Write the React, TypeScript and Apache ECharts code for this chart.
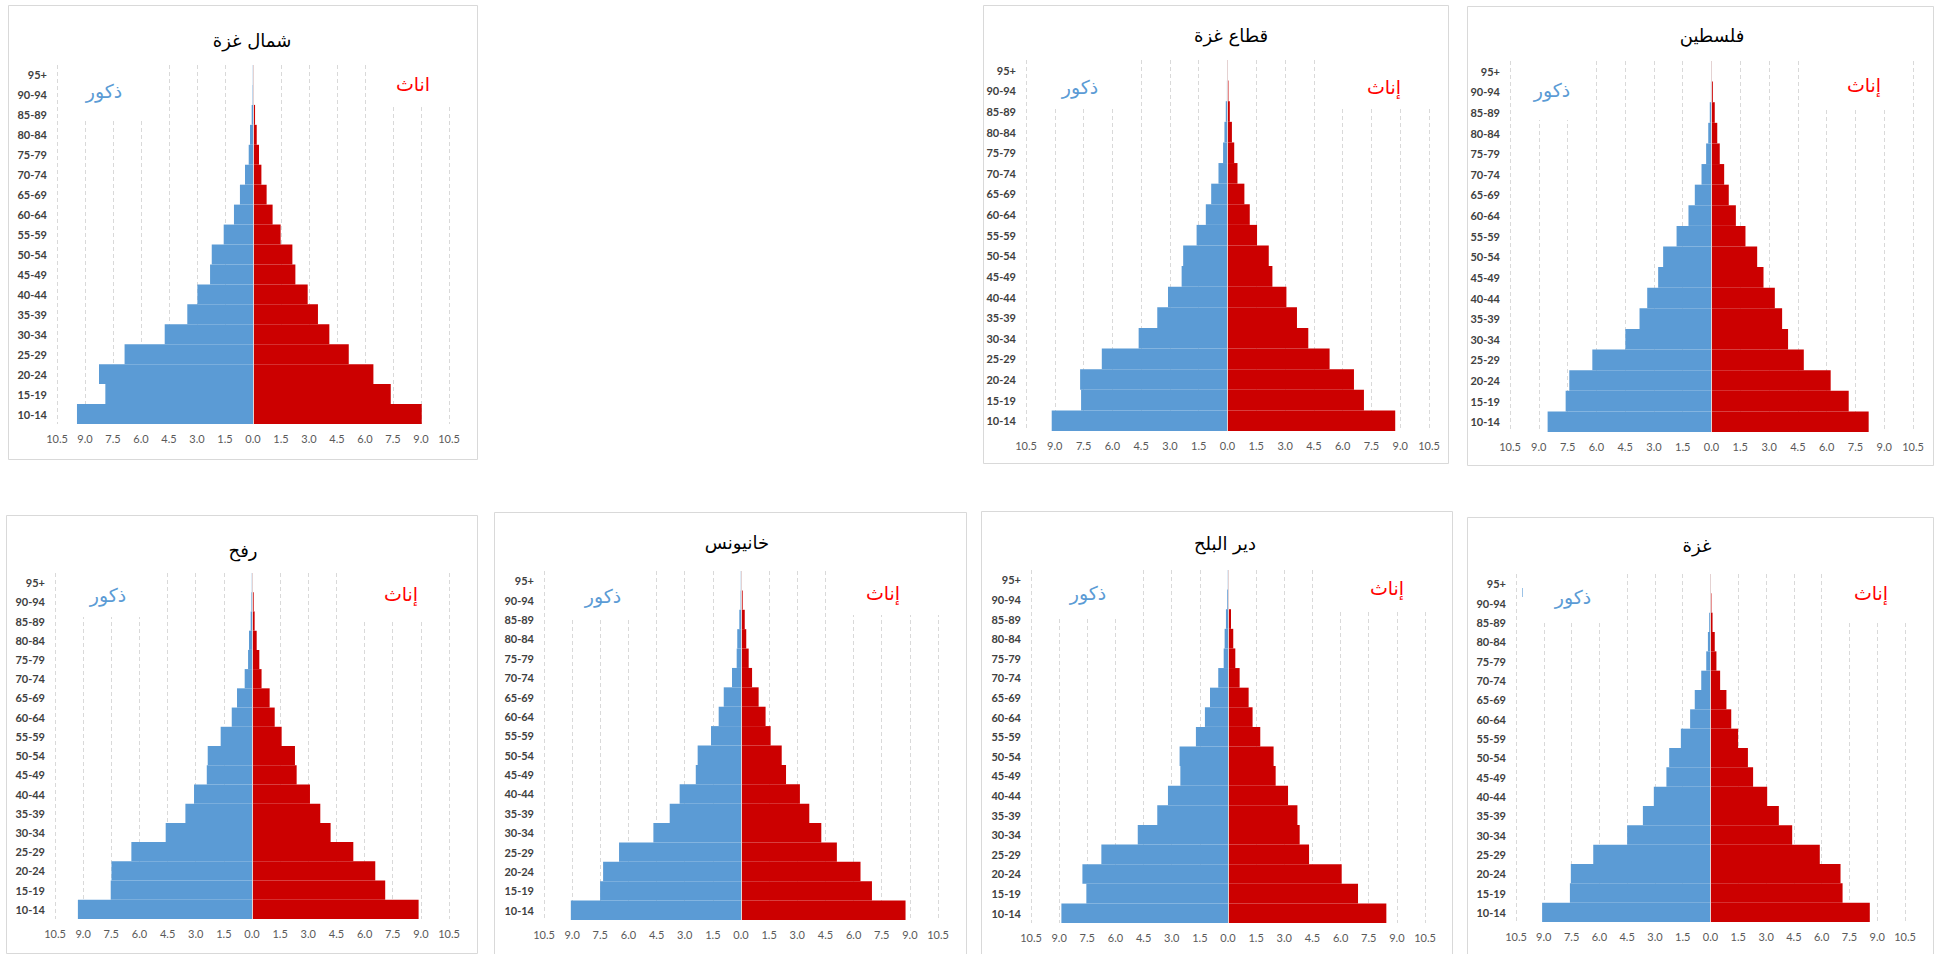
import React, { useEffect, useRef } from "react";
import * as echarts from "echarts";

const ageGroups = ["10-14","15-19","20-24","25-29","30-34","35-39","40-44","45-49","50-54","55-59","60-64","65-69","70-74","75-79","80-84","85-89","90-94","95+"];
const tickValues = [-10.5, -9, -7.5, -6, -4.5, -3, -1.5, 0, 1.5, 3, 4.5, 6, 7.5, 9, 10.5];

const panelTitles = ["شمال غزة", "قطاع غزة", "فلسطين", "رفح", "خانيونس", "دير البلح", "غزة"];
const maleLabel = "ذكور";
const femaleLabels = ["اناث", "إناث", "إناث", "إناث", "إناث", "إناث", "إناث"];

// percentages, age 10-14 ... 95+
const northGazaMale = [9.43,7.91,8.25,6.88,4.73,3.52,2.98,2.30,2.21,1.57,1.02,0.70,0.43,0.23,0.16,0.07,0.02,0.01];
const northGazaFemale = [9.04,7.38,6.45,5.13,4.09,3.48,2.93,2.27,2.11,1.48,1.05,0.73,0.45,0.32,0.20,0.11,0.04,0.02];
const gazaStripMale = [9.16,7.63,7.68,6.55,4.63,3.66,3.10,2.39,2.31,1.61,1.13,0.85,0.47,0.23,0.16,0.09,0.03,0.01];
const gazaStripFemale = [8.74,7.11,6.59,5.32,4.21,3.62,3.07,2.34,2.15,1.54,1.16,0.88,0.52,0.35,0.23,0.12,0.05,0.02];
const palestineMale = [8.54,7.60,7.41,6.21,4.49,3.75,3.35,2.78,2.52,1.82,1.20,0.87,0.52,0.28,0.17,0.09,0.03,0.01];
const palestineFemale = [8.19,7.15,6.21,4.81,3.99,3.68,3.30,2.71,2.38,1.77,1.27,0.90,0.66,0.43,0.30,0.17,0.07,0.02];
const rafahMale = [9.28,7.53,7.49,6.43,4.60,3.55,3.09,2.41,2.36,1.67,1.08,0.80,0.39,0.21,0.16,0.07,0.03,0.01];
const rafahFemale = [8.88,7.10,6.57,5.40,4.19,3.64,3.09,2.38,2.29,1.58,1.21,0.94,0.51,0.39,0.25,0.14,0.09,0.02];
const khanYunisMale = [9.07,7.51,7.35,6.50,4.67,3.80,3.27,2.41,2.31,1.60,1.19,0.92,0.48,0.23,0.20,0.09,0.02,0.01];
const khanYunisFemale = [8.77,6.98,6.37,5.11,4.28,3.64,3.14,2.40,2.17,1.58,1.31,0.94,0.59,0.41,0.28,0.20,0.09,0.02];
const deirAlBalahMale = [8.88,7.55,7.76,6.75,4.81,3.77,3.20,2.54,2.58,1.71,1.23,0.96,0.52,0.23,0.18,0.11,0.04,0.01];
const deirAlBalahFemale = [8.44,6.93,6.06,4.32,3.82,3.70,3.20,2.54,2.43,1.72,1.31,1.10,0.62,0.39,0.28,0.16,0.04,0.01];
const gazaMale = [9.09,7.59,7.54,6.33,4.50,3.65,3.06,2.38,2.23,1.60,1.10,0.85,0.50,0.23,0.14,0.07,0.02,0.01];
const gazaFemale = [8.60,7.13,7.02,5.90,4.41,3.69,3.06,2.30,2.02,1.49,1.12,0.86,0.52,0.32,0.23,0.11,0.05,0.02];

const maleSeries = [northGazaMale, gazaStripMale, palestineMale, rafahMale, khanYunisMale, deirAlBalahMale, gazaMale];
const femaleSeries = [northGazaFemale, gazaStripFemale, palestineFemale, rafahFemale, khanYunisFemale, deirAlBalahFemale, gazaFemale];

// layout (px)
const grids = [
  { left: 57, top: 65, width: 392, height: 359 },
  { left: 1026, top: 60, width: 403, height: 371 },
  { left: 1510, top: 61, width: 403, height: 371 },
  { left: 55, top: 573, width: 394, height: 346 },
  { left: 544, top: 571, width: 394, height: 349 },
  { left: 1031, top: 570, width: 394, height: 353 },
  { left: 1516, top: 574, width: 389, height: 348 },
];
const frames = [
  [8, 5, 469, 454],
  [983, 5, 465, 458],
  [1467, 6, 466, 459],
  [6, 515, 471, 438],
  [494, 512, 472, 450],
  [981, 511, 471, 450],
  [1467, 517, 466, 450],
];
const titlePos = [[252, 40], [1231, 35], [1712, 35], [243, 550], [737, 542], [1225, 543], [1697, 545]];
const malePos = [[104, 91], [1080, 87], [1552, 90], [108, 595], [603, 596], [1088, 593], [1573, 597]];
const femalePos = [[413, 84], [1384, 87], [1864, 85], [401, 594], [883, 593], [1387, 588], [1871, 593]];
const maleBoxes = [
  [62, 62, 98, 56], [1032, 56, 103, 52], [1520, 57, 70, 63], [62, 570, 98, 47],
  [555, 568, 95, 50], [1038, 567, 99, 51], [1525, 571, 95, 51],
];
const femaleBoxes = [
  [375, 62, 80, 45], [1330, 56, 105, 52], [1815, 57, 83, 51], [355, 570, 85, 50],
  [840, 568, 105, 47], [1325, 567, 107, 44], [1830, 571, 82, 51],
];

const MALE_COLOR = "#5B9BD5";
const FEMALE_COLOR = "#CC0000";
const ARABIC_FONT = "'DejaVu Sans', sans-serif";

export default function App() {
  const ref = useRef<HTMLDivElement>(null);
  useEffect(() => {
    document.body.style.margin = "0";
    if (!ref.current) return;
    const chart = echarts.init(ref.current, undefined, { renderer: "svg" });

    const xAxis = grids.map((_, i) => ({
      type: "value",
      gridIndex: i,
      min: -10.5,
      max: 10.5,
      interval: 1.5,
      axisLine: { show: false },
      axisTick: { show: false },
      axisLabel: {
        color: "#595959",
        fontSize: 11,
        fontFamily: "Lato, 'Liberation Sans', sans-serif",
        margin: 9,
        formatter: (v: number) => Math.abs(v).toFixed(1),
      },
      splitLine: { show: true, lineStyle: { color: "#D9D9D9", type: [4, 3], width: 1 } },
    }));
    const yAxis = grids.map((_, i) => ({
      type: "category",
      gridIndex: i,
      data: ageGroups,
      axisLine: { show: false },
      axisTick: { show: false },
      splitLine: { show: false },
      axisLabel: {
        color: "#404040",
        fontSize: 11,
        fontWeight: "bold",
        fontFamily: "Lato, 'Liberation Sans', sans-serif",
        margin: 10,
      },
    }));
    const series: any[] = [];
    grids.forEach((_, i) => {
      series.push({
        type: "bar",
        name: maleLabel,
        xAxisIndex: i,
        yAxisIndex: i,
        data: maleSeries[i].map((v) => -v),
        barCategoryGap: "0%",
        barGap: "-100%",
        itemStyle: { color: MALE_COLOR },
      });
      series.push({
        type: "bar",
        name: femaleLabels[i],
        xAxisIndex: i,
        yAxisIndex: i,
        data: femaleSeries[i],
        barCategoryGap: "0%",
        barGap: "-100%",
        itemStyle: { color: FEMALE_COLOR },
        markLine: {
          silent: true,
          symbol: "none",
          label: { show: false },
          lineStyle: { color: "#E4D2D2", width: 1, type: "solid" },
          data: [{ xAxis: 0 }],
        },
      });
    });

    const graphic: any[] = [];
    frames.forEach(([x, y, w, h]) => {
      graphic.push({
        type: "rect",
        silent: true,
        z: 1,
        shape: { x: x + 0.5, y: y + 0.5, width: w, height: h },
        style: { fill: "none", stroke: "#D9D9D9", lineWidth: 1 },
      });
    });
    [...maleBoxes, ...femaleBoxes].forEach(([x, y, w, h]) => {
      graphic.push({
        type: "rect",
        silent: true,
        z: 50,
        shape: { x, y, width: w, height: h },
        style: { fill: "#FFFFFF", stroke: null },
      });
    });
    titlePos.forEach(([x, y], i) => {
      graphic.push({
        type: "text",
        silent: true,
        z: 60,
        x,
        y,
        style: {
          text: panelTitles[i],
          fill: "#000000",
          fontSize: 18,
          fontFamily: ARABIC_FONT,
          align: "center",
          verticalAlign: "middle",
          textAlign: "center",
          textVerticalAlign: "middle",
        },
      });
    });
    malePos.forEach(([x, y]) => {
      graphic.push({
        type: "text",
        silent: true,
        z: 60,
        x,
        y,
        style: {
          text: maleLabel,
          fill: MALE_COLOR,
          fontSize: 19,
          fontFamily: ARABIC_FONT,
          align: "center",
          verticalAlign: "middle",
          textAlign: "center",
          textVerticalAlign: "middle",
        },
      });
    });
    femalePos.forEach(([x, y], i) => {
      graphic.push({
        type: "text",
        silent: true,
        z: 60,
        x,
        y,
        style: {
          text: femaleLabels[i],
          fill: "#FF0000",
          fontSize: 19,
          fontFamily: ARABIC_FONT,
          align: "center",
          verticalAlign: "middle",
          textAlign: "center",
          textVerticalAlign: "middle",
        },
      });
    });
    graphic.push({
      type: "line",
      silent: true,
      z: 60,
      shape: { x1: 1522.5, y1: 588, x2: 1522.5, y2: 597 },
      style: { stroke: "#9DC3E6", lineWidth: 1 },
    });

    chart.setOption({
      animation: false,
      backgroundColor: "#FFFFFF",
      grid: grids.map((g) => ({ ...g, containLabel: false })),
      xAxis,
      yAxis,
      series,
      graphic,
    });
    return () => chart.dispose();
  }, []);
  return <div ref={ref} style={{ width: 1944, height: 954 }} />;
}
